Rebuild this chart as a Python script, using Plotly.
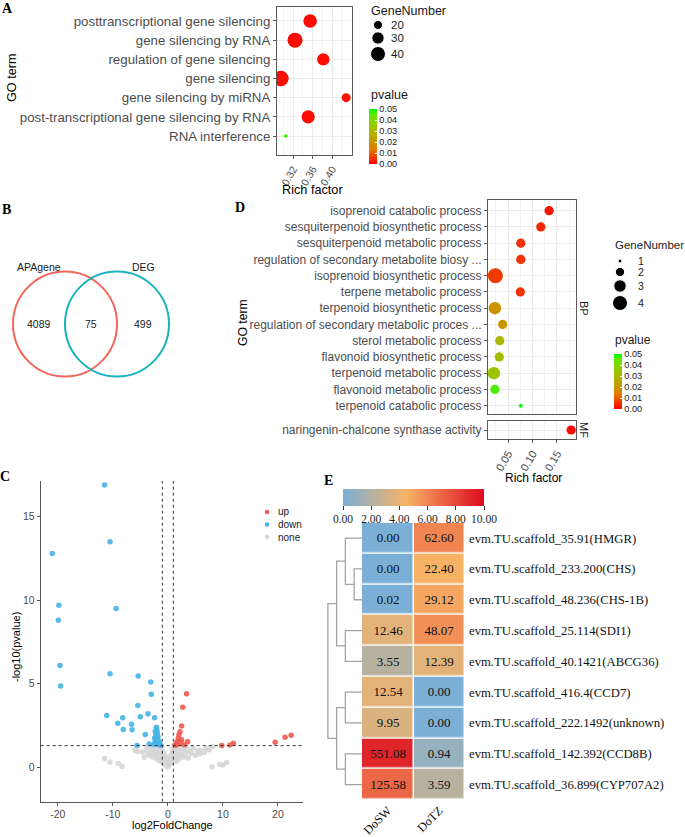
import numpy as np
import plotly.graph_objects as go

W, H = 685, 837


def fx(px):
    return px / W


def fy(py):
    return 1 - py / H


# ---------------- Panel A : GO enrichment (gene silencing) ----------------
a_terms = ["posttranscriptional gene silencing", "gene silencing by RNA",
           "regulation of gene silencing", "gene silencing",
           "gene silencing by miRNA", "post-transcriptional gene silencing by RNA",
           "RNA interference"]
a_rich = [0.355, 0.324, 0.382, 0.295, 0.429, 0.351, 0.305]
a_genes = [34, 40, 30, 42, 20, 33, 8]
a_pval = [0.001, 0.001, 0.001, 0.001, 0.002, 0.001, 0.048]
a_legend_genes = [20, 30, 40]
a_xticks = [0.32, 0.36, 0.40]

# ---------------- Panel B : Venn ----------------
venn_sets = ["APAgene", "DEG"]
venn_counts = [4089, 75, 499]  # APAgene only, both, DEG only

# ---------------- Panel C : volcano ----------------
up_x = [3.4, 2.7, 2.5, 2.2, 2.0, 1.9, 1.65, 2.5, 3.6, 3.0, 1.6, 2.3, 1.3, 9.8, 11.3, 11.9, 19.5, 21.3, 22.4]
up_y = [4.4, 3.6, 2.47, 2.13, 1.93, 1.73, 1.53, 1.65, 1.53, 1.35, 1.35, 1.45, 1.33, 1.3, 1.34, 1.44, 1.5, 1.8, 1.92]
down_x = [-11.5, -10.5, -21.0, -19.8, -19.9, -9.4, -19.6, -19.5, -10.5, -5.4, -3.1, -3.0, -5.45, -3.6,
          -5.0, -11.1, -8.2, -9.1, -6.6, -8.1, -6.5, -2.4, -4.1, -5.6, -3.4,
          -2.1, -2.0, -2.3, -1.9, -2.2, -1.8, -2.4, -2.0, -1.7, -2.3, -1.9, -1.5, -2.1, -1.6, -1.3, -2.5]
down_y = [16.9, 13.5, 12.8, 9.7, 8.8, 9.5, 6.1, 4.87, 5.6, 5.47, 5.1, 4.37, 3.7, 3.2,
          3.03, 3.1, 2.97, 2.63, 2.57, 2.27, 2.25, 2.97, 1.97, 1.3, 1.4,
          2.4, 2.25, 2.15, 2.05, 1.9, 1.85, 1.75, 1.7, 1.6, 1.55, 1.5, 1.45, 1.4, 1.35, 1.32, 1.38]
none_x = [-11.5, -10.5, -9.0, -8.3, -6.0, -5.5, -4.6, -4.3, -3.9, -3.6, -3.3, -3.0, -2.9, -2.7, -2.5,
          -2.4, -2.3, -2.2, -2.1, -2.0, -1.9, -1.8, -1.7, -1.6, -1.5, -1.4, -1.3, -1.2, -1.1, -1.0,
          -0.9, -0.8, -0.7, -0.6, -0.5, -0.4, -0.3, -0.2, -0.1, 0.0, 0.1, 0.2, 0.3, 0.4, 0.5, 0.6,
          0.7, 0.8, 0.9, 1.0, 1.1, 1.2, 1.3, 1.4, 1.5, 1.6, 1.7, 1.8, 1.9, 2.0, 2.2, 2.3, 2.5, 2.6,
          2.8, 3.0, 3.2, 3.5, 3.7, 4.0, 4.3, 4.6, 5.0, 5.4, 5.8, 6.1, 6.6, 7.0, 7.5, 8.1, 8.0, 9.4,
          10.0, 10.7]
none_y = [0.52, 0.30, 0.22, 0.05, 1.02, 0.95, 0.92, 0.60, 1.10, 0.84, 0.70, 1.15, 0.95, 0.62, 1.05,
          0.80, 1.20, 0.55, 0.90, 0.70, 1.10, 0.45, 0.85, 1.00, 0.60, 0.38, 0.75, 1.15, 0.50, 0.30,
          0.95, 0.62, 0.25, 0.80, 0.45, 0.15, 0.60, 0.30, 0.08, 0.02, 0.10, 0.35, 0.18, 0.55, 0.25, 0.75,
          0.40, 1.05, 0.30, 0.65, 0.90, 0.45, 1.15, 0.70, 0.35, 0.95, 0.55, 1.20, 0.80, 0.50, 1.00, 0.70,
          1.15, 0.85, 0.60, 1.05, 0.80, 1.10, 0.55, 0.95, 0.84, 1.15, 0.70, 1.00, 0.80, 1.00, 0.88, 1.14,
          1.05, 1.24, 0.02, 0.17, 0.14, 0.28]
volcano_groups = ["up", "down", "none"]
fc_cut = [-1, 1]
p_cut = 1.30
c_xticks = [-20, -10, 0, 10, 20]
c_xticktext = ["-20", "-10", "0", "10", "20"]
c_yticks = [0, 5, 10, 15]

# ---------------- Panel D : GO enrichment (terpenoid) ----------------
d_bp_terms = ["isoprenoid catabolic process", "sesquiterpenoid biosynthetic process",
              "sesquiterpenoid metabolic process", "regulation of secondary metabolite biosy ...",
              "isoprenoid biosynthetic process", "terpene metabolic process",
              "terpenoid biosynthetic process", "regulation of secondary metabolic proces ...",
              "sterol metabolic process", "flavonoid biosynthetic process",
              "terpenoid metabolic process", "flavonoid metabolic process",
              "terpenoid catabolic process"]
d_bp_rich = [0.134, 0.117, 0.076, 0.076, 0.024, 0.075, 0.023, 0.039, 0.033, 0.032, 0.021, 0.023, 0.076]
d_bp_genes = [2, 2, 2, 2, 4, 2, 3, 2, 2, 2, 3, 2, 1]
d_bp_pval = [0.002, 0.004, 0.005, 0.005, 0.006, 0.005, 0.019, 0.02, 0.029, 0.031, 0.034, 0.046, 0.05]
d_mf_terms = ["naringenin-chalcone synthase activity"]
d_mf_rich = [0.179]
d_mf_genes = [2]
d_mf_pval = [0.001]
d_legend_genes = [1, 2, 3, 4]
d_xticks = [0.05, 0.10, 0.15]

# ---------------- Panel E : heatmap ----------------
e_genes = ["evm.TU.scaffold_35.91(HMGR)", "evm.TU.scaffold_233.200(CHS)",
           "evm.TU.scaffold_48.236(CHS-1B)", "evm.TU.scaffold_25.114(SDI1)",
           "evm.TU.scaffold_40.1421(ABCG36)", "evm.TU.scaffold_416.4(CCD7)",
           "evm.TU.scaffold_222.1492(unknown)", "evm.TU.scaffold_142.392(CCD8B)",
           "evm.TU.scaffold_36.899(CYP707A2)"]
e_samples = ["DoSW", "DoTZ"]
e_dosw = [0.00, 0.00, 0.02, 12.46, 3.55, 12.54, 9.95, 551.08, 125.58]
e_dotz = [62.60, 22.40, 29.12, 48.07, 12.39, 0.00, 0.00, 0.94, 3.59]
# hierarchical clustering merges (child a, child b, height); leaves 0..8
e_merges = [(1, 2, 0.9), (0, 9, 1.9), (3, 4, 1.9), (10, 11, 2.9),
            (5, 6, 1.9), (7, 8, 1.9), (13, 14, 2.9), (12, 15, 3.9)]
e_cbar_ticks = [0, 2, 4, 6, 8, 10]

# ---------------- styles ----------------
SANS = "Liberation Sans, Arial, sans-serif"
SERIF = "Liberation Serif, Times New Roman, serif"
GRID = "#EBEBEB"
MINOR = "#F4F4F4"
BORDER = "#5A5A5A"
TICKTXT = "#4D4D4D"
pv_scale = [[0.0, "#FF0000"], [0.25, "#E27800"], [0.5, "#B8AA00"],
            [0.75, "#8ED000"], [0.9, "#5FE800"], [1.0, "#00FF00"]]
heat_scale = [[0.0, "#7BAFD6"], [0.45, "#F7B366"], [1.0, "#DC0A1E"]]
volcano_colors = {"up": "#EE5A4F", "down": "#45B3E6", "none": "#D6D6D6"}

# legend layout (pixel positions of keys)
A_LEG = dict(title_xy=(369, 11), key_x=378, label_x=389, rows_y=[25, 38, 54])
D_LEG = dict(title_xy=(613, 245), key_x=620, label_x=636, rows_y=[261, 272, 286, 303])
C_LEG = dict(key_x=267, label_x=276, rows_y=[512, 524.5, 537])


def size_a(v):
    return float(np.sqrt(max(7.2 * v - 63, 12)))


def size_d(v):
    return float(np.sqrt(max(70 * v - 55, 12)))


fig = go.Figure()

# Panel A points
fig.add_trace(go.Scatter(
    x=a_rich, y=a_terms, mode="markers", xaxis="x", yaxis="y", showlegend=False,
    marker=dict(size=[size_a(g) for g in a_genes], color=a_pval, coloraxis="coloraxis",
                line=dict(width=0), opacity=1)))

# Panel C volcano
vdata = {"up": (up_x, up_y), "down": (down_x, down_y), "none": (none_x, none_y)}
for name in ["none", "down", "up"]:
    xs, ys = vdata[name]
    fig.add_trace(go.Scatter(x=xs, y=ys, mode="markers", name=name, showlegend=False,
                             xaxis="x3", yaxis="y3",
                             marker=dict(size=5.5, color=volcano_colors[name], opacity=0.9,
                                         line=dict(width=0))))

# Panel D points
fig.add_trace(go.Scatter(
    x=d_bp_rich, y=d_bp_terms, mode="markers", xaxis="x4", yaxis="y4", showlegend=False,
    marker=dict(size=[size_d(g) for g in d_bp_genes], color=d_bp_pval, coloraxis="coloraxis2",
                line=dict(width=0), opacity=1)))
fig.add_trace(go.Scatter(
    x=d_mf_rich, y=d_mf_terms, mode="markers", xaxis="x5", yaxis="y5", showlegend=False,
    marker=dict(size=[size_d(g) for g in d_mf_genes], color=d_mf_pval, coloraxis="coloraxis2",
                line=dict(width=0), opacity=1)))

# Panel E heatmap
vals = np.array([e_dosw, e_dotz]).T
z = np.log2(vals + 1)
txt = [[f"{v:.2f}" for v in row] for row in vals]
fig.add_trace(go.Heatmap(
    z=z, x=e_samples, y=e_genes, text=txt, texttemplate="%{text}",
    textfont=dict(family=SERIF, size=13, color="#111111"),
    coloraxis="coloraxis3", xgap=1.5, ygap=1.5, xaxis="x6", yaxis="y6", hoverinfo="skip"))

# dendrogram
node_pos = {i: (0.0, float(i)) for i in range(len(e_genes))}
dx, dy = [], []
nid = len(e_genes)
for a, b, h in e_merges:
    ha, ya = node_pos[a]
    hb, yb = node_pos[b]
    dx += [ha, h, h, hb, None]
    dy += [ya, ya, yb, yb, None]
    node_pos[nid] = (h, (ya + yb) / 2)
    nid += 1
fig.add_trace(go.Scatter(x=dx, y=dy, mode="lines", xaxis="x7", yaxis="y7", showlegend=False,
                         line=dict(color="#A3A3A3", width=1.3), hoverinfo="skip"))

# legend keys (drawn on a pixel-unit overlay axis)
fig.add_trace(go.Scatter(
    x=[A_LEG["key_x"]] * len(a_legend_genes), y=A_LEG["rows_y"], mode="markers",
    xaxis="x8", yaxis="y8", showlegend=False, hoverinfo="skip", cliponaxis=False,
    marker=dict(size=[size_a(g) for g in a_legend_genes], color="black", opacity=1)))
fig.add_trace(go.Scatter(
    x=[D_LEG["key_x"]] * len(d_legend_genes), y=D_LEG["rows_y"], mode="markers",
    xaxis="x8", yaxis="y8", showlegend=False, hoverinfo="skip", cliponaxis=False,
    marker=dict(size=[size_d(g) for g in d_legend_genes], color="black", opacity=1)))
fig.add_trace(go.Scatter(
    x=[C_LEG["key_x"]] * len(volcano_groups), y=C_LEG["rows_y"], mode="markers",
    xaxis="x8", yaxis="y8", showlegend=False, hoverinfo="skip", cliponaxis=False,
    marker=dict(size=4.5, color=[volcano_colors[g] for g in volcano_groups], opacity=1)))

# ---------------- axes ----------------
box = dict(showline=True, mirror=True, linecolor=BORDER, linewidth=1, zeroline=False)
lay = dict(
    width=W, height=H, margin=dict(l=0, r=0, t=0, b=0, autoexpand=False),
    paper_bgcolor="white", plot_bgcolor="rgba(0,0,0,0)",
    font=dict(family=SANS, color="#1A1A1A"),
    template="none", showlegend=False,
)
# A
lay["xaxis"] = dict(domain=[fx(277), fx(352)], anchor="y", range=[0.287, 0.441],
                    tickvals=a_xticks, ticktext=[f"{t:.2f}" for t in a_xticks], tickangle=-60,
                    ticks="outside", ticklen=3, tickcolor=BORDER,
                    tickfont=dict(size=10.5, color=TICKTXT),
                    showgrid=True, gridcolor=GRID, gridwidth=1,
                    minor=dict(tickvals=[0.30, 0.34, 0.38, 0.42], showgrid=True, gridcolor=MINOR,
                               ticks=""), **box)
lay["yaxis"] = dict(domain=[fy(155), fy(7)], anchor="x", type="category",
                    categoryorder="array", categoryarray=a_terms[::-1], range=[-0.99, 6.73],
                    ticks="outside", ticklen=3, tickcolor=BORDER,
                    tickfont=dict(size=13.3, color=TICKTXT),
                    showgrid=True, gridcolor=GRID, gridwidth=1, **box)
# B (venn canvas)
lay["xaxis2"] = dict(domain=[0, fx(230)], anchor="y2", range=[0, 230], visible=False)
lay["yaxis2"] = dict(domain=[fy(430), fy(215)], anchor="x2", range=[430, 215], visible=False)
# C volcano
cax = dict(showline=True, linecolor="#555555", linewidth=1, ticks="outside", ticklen=3,
           tickcolor="#555555", tickfont=dict(size=10.5, color=TICKTXT), showgrid=False,
           zeroline=False)
lay["xaxis3"] = dict(domain=[fx(40.7), fx(302.7)], anchor="y3", range=[-23.1, 24.5],
                     tickvals=c_xticks, ticktext=c_xticktext, **cax)
lay["yaxis3"] = dict(domain=[fy(801.7), fy(481)], anchor="x3", range=[-2.06, 17.14],
                     tickvals=c_yticks, ticktext=[str(t) for t in c_yticks], **cax)
# D
dgrid = dict(showgrid=True, gridcolor=GRID, gridwidth=1,
             minor=dict(tickvals=[0.025, 0.075, 0.125, 0.175], showgrid=True,
                        gridcolor=MINOR, ticks=""))
lay["xaxis4"] = dict(domain=[fx(488), fx(576)], anchor="y4", range=[0.0089, 0.189],
                     tickvals=d_xticks, showticklabels=False, ticks="", **dgrid, **box)
lay["yaxis4"] = dict(domain=[fy(414), fy(200)], anchor="x4", type="category",
                     categoryorder="array", categoryarray=d_bp_terms[::-1], range=[-0.51, 12.66],
                     ticks="outside", ticklen=3, tickcolor=BORDER,
                     tickfont=dict(size=12, color=TICKTXT),
                     showgrid=True, gridcolor=GRID, **box)
lay["xaxis5"] = dict(domain=[fx(488), fx(576)], anchor="y5", range=[0.0089, 0.189],
                     tickvals=d_xticks, ticktext=[f"{t:.2f}" for t in d_xticks], tickangle=-60,
                     ticks="outside", ticklen=3, tickcolor=BORDER,
                     tickfont=dict(size=11, color=TICKTXT), **dgrid, **box)
lay["yaxis5"] = dict(domain=[fy(439), fy(421)], anchor="x5", type="category",
                     categoryorder="array", categoryarray=d_mf_terms, range=[-0.55, 0.55],
                     ticks="outside", ticklen=3, tickcolor=BORDER,
                     tickfont=dict(size=12, color=TICKTXT),
                     showgrid=True, gridcolor=GRID, **box)
# E heatmap
lay["xaxis6"] = dict(domain=[fx(362), fx(465)], anchor="y6", type="category",
                     categoryorder="array", categoryarray=e_samples, range=[-0.5, 1.5],
                     tickangle=-45, ticks="", showgrid=False, zeroline=False, showline=False,
                     tickfont=dict(family=SERIF, size=12.3, color="#111111"))
lay["yaxis6"] = dict(domain=[fy(800), fy(522.7)], anchor="x6", type="category", side="right",
                     categoryorder="array", categoryarray=e_genes, range=[8.5, -0.5],
                     ticks="", showgrid=False, zeroline=False, showline=False,
                     ticklabelstandoff=3,
                     tickfont=dict(family=SERIF, size=12.7, color="#111111"))
lay["xaxis7"] = dict(domain=[fx(327), fx(362)], anchor="y7", range=[4.0, 0], visible=False)
lay["yaxis7"] = dict(domain=[fy(800), fy(522.7)], anchor="x7", range=[8.5, -0.5], visible=False)
# pixel overlay for legend keys
lay["xaxis8"] = dict(domain=[0, 1], anchor="y8", range=[0, W], visible=False)
lay["yaxis8"] = dict(domain=[0, 1], anchor="x8", range=[H, 0], visible=False)

# colour axes
pv_ticks = [0, 0.01, 0.02, 0.03, 0.04, 0.05]
pv_cbar = dict(xanchor="left", xpad=0, yanchor="top", ypad=0, lenmode="pixels",
               thickness=8, tickvals=pv_ticks, ticktext=[f"{t:.2f}" for t in pv_ticks],
               ticks="inside", tickcolor="white", ticklen=2, outlinewidth=0,
               tickfont=dict(size=9.2, color="#1A1A1A"))
lay["coloraxis"] = dict(colorscale=pv_scale, cmin=0, cmax=0.05,
                        colorbar=dict(x=fx(369), y=fy(109), len=55, **pv_cbar))
lay["coloraxis2"] = dict(colorscale=pv_scale, cmin=0, cmax=0.05,
                         colorbar=dict(x=fx(614), y=fy(354), len=55, **pv_cbar))
lay["coloraxis3"] = dict(colorscale=heat_scale, cmin=0, cmax=10,
                         colorbar=dict(orientation="h", x=fx(343), xanchor="left", xpad=0,
                                       y=fy(489), yanchor="top", ypad=0, len=141,
                                       lenmode="pixels", thickness=17,
                                       tickvals=e_cbar_ticks,
                                       ticktext=[f"{t:.2f}" for t in e_cbar_ticks],
                                       ticks="outside", ticklen=4, tickcolor="#333333",
                                       outlinewidth=0,
                                       tickfont=dict(family=SERIF, size=11.5, color="#222222")))

fig.update_layout(**lay)

# volcano threshold lines
for v in fc_cut:
    fig.add_shape(type="line", xref="x3", yref="y3 domain", x0=v, x1=v, y0=0, y1=1,
                  line=dict(color="#333333", width=1, dash="3px,3px"))
fig.add_shape(type="line", xref="x3 domain", yref="y3", x0=0, x1=1, y0=p_cut, y1=p_cut,
              line=dict(color="#333333", width=1, dash="3px,3px"))

# Venn circles
fig.add_shape(type="circle", xref="x2", yref="y2", x0=13, x1=117, y0=271.5, y1=376.5,
              line=dict(color="#F2665B", width=2))
fig.add_shape(type="circle", xref="x2", yref="y2", x0=65, x1=169, y0=271.5, y1=376.5,
              line=dict(color="#1AB2BC", width=2))
for txt_, xx in zip(venn_sets, [39, 143.5]):
    fig.add_annotation(text=txt_, xref="x2", yref="y2", x=xx, y=267, showarrow=False,
                       font=dict(size=10.5, color="#1A1A1A"))
for cnt, xx in zip(venn_counts, [39, 91, 142.7]):
    fig.add_annotation(text=str(cnt), xref="x2", yref="y2", x=xx, y=324, showarrow=False,
                       font=dict(size=10.5, color="#1A1A1A"))


def ann(text, px, py, size, angle=0, xanchor="center", color="#000000", family=SANS):
    fig.add_annotation(text=text, xref="paper", yref="paper", x=fx(px), y=fy(py),
                       showarrow=False, textangle=angle, xanchor=xanchor, yanchor="middle",
                       font=dict(size=size, color=color, family=family))


# axis titles & labels
ann("GO term", 12, 78, 12.7, angle=-90)
ann("Rich factor", 312, 190, 12.7)
ann("pvalue", 369, 95, 12.5, xanchor="left", color="#1A1A1A")
ann("-log10(pvalue)", 16, 647, 11, angle=-90)
ann("log2FoldChange", 172, 825, 11)
ann("GO term", 243, 322, 12.2, angle=-90)
ann("Rich factor", 533, 478, 12)
ann("pvalue", 613, 340, 12, xanchor="left", color="#1A1A1A")
ann("BP", 584, 308, 11, angle=90, color="#1A1A1A")
ann("MF", 584, 430, 11, angle=90, color="#1A1A1A")

# legend titles and labels
ann("GeneNumber", A_LEG["title_xy"][0], A_LEG["title_xy"][1], 12.5, xanchor="left", color="#1A1A1A")
for g, yy in zip(a_legend_genes, A_LEG["rows_y"]):
    ann(str(g), A_LEG["label_x"], yy, 11.5, xanchor="left", color="#1A1A1A")
ann("GeneNumber", D_LEG["title_xy"][0], D_LEG["title_xy"][1], 11.5, xanchor="left", color="#1A1A1A")
for g, yy in zip(d_legend_genes, D_LEG["rows_y"]):
    ann(str(g), D_LEG["label_x"], yy, 10.5, xanchor="left", color="#1A1A1A")
for g, yy in zip(volcano_groups, C_LEG["rows_y"]):
    ann(g, C_LEG["label_x"], yy, 10, xanchor="left", color="#1A1A1A")

# panel letters
for letter, px, py in [("A", 8, 8), ("B", 6, 209), ("C", 5, 476), ("D", 240, 207), ("E", 328, 480)]:
    ann(f"<b>{letter}</b>", px, py, 14, family=SERIF)

fig.write_html("out.html", config={"displayModeBar": False},
               post_script="document.body.style.margin='0';document.body.style.padding='0';")
